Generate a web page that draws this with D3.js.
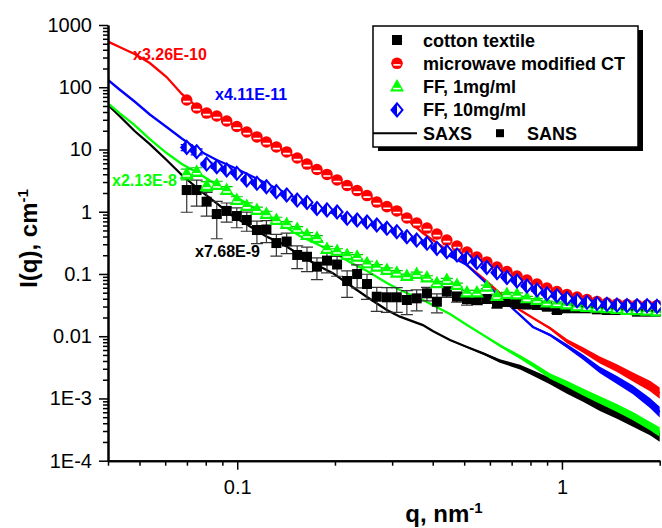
<!DOCTYPE html>
<html>
<head>
<meta charset="utf-8">
<script src="https://cdn.jsdelivr.net/npm/d3@7"></script>
<style>
  body { margin: 0; background: #fff; }
  svg { display: block; font-family: "Liberation Sans", Arial, sans-serif; }
</style>
</head>
<body>
<div id="chart"></div>
<script>
// SANS q grid shared by the four samples, nm^-1
const qSans = [0.0699, 0.0750, 0.0805, 0.0865, 0.0928, 0.0997, 0.107, 0.115, 0.123, 0.132,
  0.142, 0.153, 0.164, 0.176, 0.189, 0.203, 0.218, 0.234, 0.251, 0.269,
  0.289, 0.310, 0.333, 0.357, 0.384, 0.412, 0.442, 0.475, 0.510, 0.547,
  0.587, 0.631, 0.677, 0.727, 0.780, 0.838, 0.899, 0.965, 1.036, 1.113,
  1.194, 1.282, 1.376, 1.477, 1.586, 1.702, 1.828, 1.962];

const cottonSans = [2.23, 2.23, 1.45, 0.918, 1.03, 0.853, 0.736, 0.508, 0.518, 0.314,
  0.332, 0.202, 0.189, 0.131, 0.164, 0.142, 0.0771, 0.0998, 0.0690, 0.0431,
  0.0422, 0.0422, 0.0382, 0.0406, 0.0489, 0.0358, 0.0519, 0.0431, 0.0396, 0.0382,
  0.0396, 0.0335, 0.0355, 0.0329, 0.0323, 0.0317, 0.0298, 0.0264, 0.0281, 0.0281,
  0.0281, 0.0270, 0.0264, 0.0264, 0.0264, 0.0248, 0.0248, 0.0248];
const cottonErr = [1.25, 1.0, 0.6, 0.55, 0.35, 0.3, 0.25, 0.2, 0.2, 0.12,
  0.12, 0.08, 0.08, 0.05, 0.06, 0.05, 0.035, 0.04, 0.03, 0.018,
  0.018, 0.018, 0.016, 0.015, 0.012, 0.012, 0.01, 0.008, 0.008, 0.006,
  0.006, 0.005, 0.005, 0.004, 0.004, 0.003, 0.003, 0.003, 0.003, 0.002,
  0.002, 0.002, 0.002, 0.002, 0.002, 0.002, 0.002, 0.002];

const modifiedSans = [62.4, 46.4, 38.5, 34.5, 28.7, 23.4, 19.1, 15.9, 13.2, 10.96,
  9.12, 7.30, 5.84, 4.77, 3.97, 3.24, 2.64, 2.19, 1.82, 1.43,
  1.21, 1.03, 0.793, 0.659, 0.547, 0.438, 0.351, 0.281, 0.225, 0.187,
  0.156, 0.129, 0.109, 0.0927, 0.0800, 0.0690, 0.0595, 0.0522, 0.0468, 0.0426,
  0.0389, 0.0361, 0.0341, 0.0330, 0.0323, 0.0318, 0.0315, 0.0312];

const ff1Sans = [4.04, 4.39, 2.59, 2.69, 2.23, 1.54, 1.24, 1.07, 0.918, 0.736,
  0.635, 0.528, 0.423, 0.378, 0.252, 0.234, 0.202, 0.189, 0.148, 0.131,
  0.116, 0.105, 0.0927, 0.0998, 0.0877, 0.0708, 0.0800, 0.0665, 0.0504, 0.0504,
  0.0624, 0.0443, 0.0476, 0.0468, 0.0406, 0.0382, 0.0348, 0.0338, 0.0323, 0.0302,
  0.0294, 0.0286, 0.0281, 0.0274, 0.0264, 0.0261, 0.0257, 0.0249];
const ff1Err = [0.8, 0.7, 0.45, 0.4, 0.3, 0.2, 0.15, 0.12, 0.1, 0.08,
  0.06, 0.05, 0.04, 0.035, 0.025, 0.02, 0.018, 0.015, 0.012, 0.01,
  0.009, 0.008, 0.007, 0.007, 0.006, 0.005, 0.005, 0.005, 0.004, 0.004,
  0.004, 0.003, 0.003, 0.003, 0.003, 0.002, 0.002, 0.002, 0.002, 0.002,
  0.002, 0.002, 0.002, 0.002, 0.002, 0.002, 0.002, 0.002];

const ff10Sans = [10.8, 9.21, 5.84, 5.29, 4.68, 4.14, 3.24, 2.86, 2.52, 2.10,
  1.86, 1.54, 1.41, 1.13, 1.07, 0.990, 0.784, 0.736, 0.684, 0.612,
  0.542, 0.478, 0.397, 0.351, 0.311, 0.258, 0.228, 0.202, 0.177, 0.153,
  0.127, 0.105, 0.0877, 0.0771, 0.0641, 0.0552, 0.0480, 0.0448, 0.0404, 0.0372,
  0.0351, 0.0335, 0.0325, 0.0317, 0.0311, 0.0309, 0.0309, 0.0302];
const ff10Err = [1.2, 1.0, 0.4, 0.3, 0.2, 0.15, 0.1, 0.08, 0.06, 0.05,
  0.04, 0.03, 0.025, 0.02, 0.018, 0.015, 0.012, 0.01, 0.009, 0.008,
  0.007, 0.006, 0.005, 0.005, 0.004, 0.004, 0.003, 0.003, 0.003, 0.002,
  0.002, 0.002, 0.002, 0.002, 0.002, 0.002, 0.002, 0.002, 0.002, 0.002,
  0.002, 0.002, 0.002, 0.002, 0.002, 0.002, 0.002, 0.002];

// SAXS curves (scaled), nm^-1
const qSaxs = [0.04, 0.0434, 0.0483, 0.0538, 0.0606, 0.0675, 0.0766, 0.0865, 0.0969, 0.109,
  0.123, 0.138, 0.156, 0.176, 0.197, 0.222, 0.251, 0.289, 0.317, 0.373,
  0.400, 0.452, 0.510, 0.571, 0.644, 0.743, 0.814, 0.918, 1.036, 1.161,
  1.309, 1.477, 1.655, 1.867, 2.00];

const cottonSaxs = [51.9, 34.5, 19.8, 12.2, 6.78, 3.89, 2.23, 1.36, 0.853, 0.590,
  0.400, 0.303, 0.202, 0.139, 0.103, 0.0665, 0.0427, 0.0264, 0.0206, 0.0151,
  0.0121, 0.00869, 0.00670, 0.00531, 0.00400, 0.00320, 0.00256, 0.00191, 0.00137, 0.00102,
  0.000737, 0.000562, 0.000423, 0.000311, 0.000249];
const modifiedSaxs = [540, 443, 342, 245, 146, 77.9, 44.7, 34.5, 25.2, 18.4,
  13.2, 9.81, 6.90, 4.77, 3.48, 2.50, 1.82, 1.21, 0.953, 0.455,
  0.351, 0.225, 0.139, 0.0861, 0.0494, 0.0264, 0.0196, 0.0135, 0.00837, 0.00600,
  0.00415, 0.00308, 0.00221, 0.00158, 0.00122];
const ff1Saxs = [55.2, 38.5, 24.7, 14.7, 8.77, 5.84, 4.04, 2.69, 1.86, 1.28,
  0.853, 0.612, 0.407, 0.303, 0.225, 0.156, 0.112, 0.0716, 0.0552, 0.0382,
  0.0317, 0.0227, 0.0151, 0.0105, 0.00709, 0.00463, 0.00345, 0.00230, 0.00171, 0.00127,
  0.000944, 0.000702, 0.000522, 0.000361, 0.000289];
const ff10Saxs = [131, 92.0, 59.0, 36.5, 23.0, 15.0, 9.45, 6.78, 5.23, 3.89,
  2.84, 2.11, 1.54, 1.15, 0.953, 0.764, 0.684, 0.542, 0.455, 0.314,
  0.271, 0.195, 0.139, 0.0800, 0.0427, 0.0219, 0.0141, 0.0105, 0.00696, 0.00463,
  0.00287, 0.00198, 0.00137, 0.000845, 0.000605];

// scatter of the noisy SAXS tail, in decades either side of the curve
const cottonNoise = [0, 0, 0, 0, 0, 0, 0, 0, 0, 0, 0, 0, 0, 0, 0, 0, 0, 0, 0, 0, 0,
  0.007, 0.01, 0.018, 0.028, 0.038, 0.045, 0.052, 0.06, 0.063, 0.07, 0.077, 0.08, 0.084, 0.09];
const modifiedNoise = [0, 0, 0, 0, 0, 0, 0, 0, 0, 0, 0, 0, 0, 0, 0, 0, 0, 0, 0, 0, 0,
  0, 0, 0, 0, 0.007, 0.011, 0.022, 0.034, 0.045, 0.056, 0.063, 0.073, 0.084, 0.09];
const ff1Noise = [0, 0, 0, 0, 0, 0, 0, 0, 0, 0, 0, 0, 0, 0, 0, 0, 0, 0, 0, 0, 0,
  0, 0.007, 0.014, 0.021, 0.031, 0.038, 0.045, 0.05, 0.056, 0.06, 0.063, 0.066, 0.07, 0.077];
const ff10Noise = [0, 0, 0, 0, 0, 0, 0, 0, 0, 0, 0, 0, 0, 0, 0, 0, 0, 0, 0, 0, 0,
  0, 0, 0, 0, 0.007, 0.011, 0.021, 0.031, 0.042, 0.052, 0.063, 0.07, 0.08, 0.087];

const yTicks = [1000, 100, 10, 1, 0.1, 0.01, 1e-3, 1e-4];
const yTickLabels = ["1000", "100", "10", "1", "0.1", "0.01", "1E-3", "1E-4"];
const xTicks = [0.1, 1];
const xTickLabels = ["0.1", "1"];

const sampleNames = ["cotton textile", "microwave modified CT", "FF, 1mg/ml", "FF, 10mg/ml"];
const scaleNotes = ["x7.68E-9", "x3.26E-10", "x2.13E-8", "x4.11E-11"];

const width = 662;
const height = 528;

const x = d3.scaleLog().domain([0.04, 2]).range([108, 659.7]);
const y = d3.scaleLog().domain([1e-4, 1000]).range([460.7, 25]);

const svg = d3.select("#chart").append("svg")
  .attr("width", width)
  .attr("height", height);

svg.append("rect").attr("width", width).attr("height", height).attr("fill", "#fff");

svg.append("clipPath").attr("id", "plot-clip")
  .append("rect")
  .attr("x", x.range()[0]).attr("y", y.range()[1])
  .attr("width", x.range()[1] - x.range()[0] + 1)
  .attr("height", y.range()[0] - y.range()[1]);

const plot = svg.append("g").attr("clip-path", "url(#plot-clip)");

const samples = [
  { color: "#000", sans: cottonSans, err: cottonErr, saxs: cottonSaxs, noise: cottonNoise, shape: "square", errColor: "#333" },
  { color: "#f00", sans: modifiedSans, err: null, saxs: modifiedSaxs, noise: modifiedNoise, shape: "circle" },
  { color: "#0f0", sans: ff1Sans, err: ff1Err, saxs: ff1Saxs, noise: ff1Noise, shape: "triangle", errColor: "#0c0" },
  { color: "#00f", sans: ff10Sans, err: ff10Err, saxs: ff10Saxs, noise: ff10Noise, shape: "diamond", errColor: "#00f" },
];

// SAXS curves with their noisy tails
const band = d3.area()
  .x((d) => x(d.q))
  .y0((d) => y(d.v * Math.pow(10, -d.s)))
  .y1((d) => y(d.v * Math.pow(10, d.s)));
const curve = d3.line().x((d) => x(d.q)).y((d) => y(d.v));

samples.forEach((s) => {
  const pts = qSaxs.map((q, i) => ({ q, v: s.saxs[i], s: s.noise[i] }));
  plot.append("path").datum(pts).attr("d", band).attr("fill", s.color);
  plot.append("path").datum(pts).attr("d", curve)
    .attr("fill", "none").attr("stroke", s.color).attr("stroke-width", 2.3);
});

// marker shapes, half-open like the original symbols
function drawMarker(g, shape, color) {
  if (shape === "square") {
    g.append("rect").attr("x", -5).attr("y", -5).attr("width", 10).attr("height", 10).attr("fill", color);
  } else if (shape === "circle") {
    g.append("circle").attr("r", 5.8).attr("fill", color);
    g.append("line").attr("x1", -3.6).attr("x2", 3.6).attr("y1", 1.6).attr("y2", 1.6)
      .attr("stroke", "#fff").attr("stroke-width", 1.6);
  } else if (shape === "triangle") {
    g.append("path").attr("d", "M0,-7.5L7,5L-7,5Z").attr("fill", color);
    g.append("line").attr("x1", -3.8).attr("x2", 3.8).attr("y1", 2).attr("y2", 2)
      .attr("stroke", "#fff").attr("stroke-width", 1.6);
  } else if (shape === "diamond") {
    g.append("path").attr("d", "M0,-6.5L5.5,0L0,6.5L-5.5,0Z").attr("fill", "#fff").attr("stroke", color).attr("stroke-width", 2);
    g.append("path").attr("d", "M0,-6.5L-5.5,0L0,6.5Z").attr("fill", color);
  }
}

// SANS points with error bars
samples.forEach((s) => {
  const pts = qSans.map((q, i) => ({ q, v: s.sans[i], e: s.err ? s.err[i] : 0 }));
  const layer = plot.append("g");
  if (s.err) {
    const bars = layer.selectAll(".err").data(pts).join("g")
      .attr("stroke", s.errColor).attr("stroke-width", 1.2);
    const top = (d) => y(d.v + d.e);
    const bottom = (d) => y(Math.max(d.v - d.e, 1e-4));
    bars.append("line")
      .attr("x1", (d) => x(d.q)).attr("x2", (d) => x(d.q))
      .attr("y1", top).attr("y2", bottom);
    bars.append("line")
      .attr("x1", (d) => x(d.q) - 6).attr("x2", (d) => x(d.q) + 6)
      .attr("y1", top).attr("y2", top);
    bars.append("line")
      .attr("x1", (d) => x(d.q) - 6).attr("x2", (d) => x(d.q) + 6)
      .attr("y1", bottom).attr("y2", bottom);
  }
  layer.selectAll(".pt").data(pts).join("g")
    .attr("transform", (d) => `translate(${x(d.q)},${y(d.v)})`)
    .each(function () { drawMarker(d3.select(this), s.shape, s.color); });
});

// axes
function styleAxis(g) {
  g.selectAll("path").attr("stroke", "#000").attr("stroke-width", 2);
  g.selectAll("line").attr("stroke", "#000").attr("stroke-width", 1.5);
  g.selectAll("text").attr("fill", "#000");
  g.attr("font-size", 20).attr("font-family", "'Liberation Sans', Arial, sans-serif");
}
const isMajor = (ticks) => (v) => ticks.some((t) => Math.abs(t - v) / t < 1e-6);

const minorY = y.ticks().filter((v) => !isMajor(yTicks)(v));
const minorX = x.ticks().filter((v) => !isMajor(xTicks)(v));

svg.append("g").attr("transform", `translate(${x.range()[0]},0)`)
  .call(d3.axisLeft(y).tickValues(minorY).tickSize(5).tickSizeOuter(0).tickFormat(""))
  .call(styleAxis);
svg.append("g").attr("transform", `translate(${x.range()[0]},0)`)
  .call(d3.axisLeft(y).tickValues(yTicks).tickSize(9).tickSizeOuter(0).tickPadding(7)
    .tickFormat((d, i) => yTickLabels[i]))
  .call(styleAxis);

svg.append("g").attr("transform", `translate(0,${y.range()[0]})`)
  .call(d3.axisBottom(x).tickValues(minorX).tickSize(5).tickSizeOuter(0).tickFormat(""))
  .call(styleAxis);
svg.append("g").attr("transform", `translate(0,${y.range()[0]})`)
  .call(d3.axisBottom(x).tickValues(xTicks).tickSize(9).tickSizeOuter(0).tickPadding(10)
    .tickFormat((d, i) => xTickLabels[i]))
  .call(styleAxis);

// axis titles
const yTitle = svg.append("text")
  .attr("transform", "translate(36.5,238.5) rotate(-90)")
  .attr("text-anchor", "middle")
  .attr("font-size", 24).attr("font-weight", "bold");
yTitle.append("tspan").text("I(q), cm");
yTitle.append("tspan").attr("dy", -9).attr("font-size", 15).text("-1");

const xTitle = svg.append("text")
  .attr("x", 444).attr("y", 522)
  .attr("text-anchor", "middle")
  .attr("font-size", 24).attr("font-weight", "bold");
xTitle.append("tspan").text("q, nm");
xTitle.append("tspan").attr("dy", -9).attr("font-size", 15).text("-1");

// scaling notes next to the curves
const notePos = [[195, 257], [133, 59.5], [112, 186], [215, 100]];
svg.selectAll(".note").data(scaleNotes).join("text")
  .attr("x", (d, i) => notePos[i][0]).attr("y", (d, i) => notePos[i][1])
  .attr("fill", (d, i) => samples[i].color)
  .attr("font-size", 16).attr("font-weight", "bold")
  .text((d) => d);

// legend
const legend = svg.append("g").attr("transform", "translate(373,26)");
legend.append("rect").attr("x", 5).attr("y", 4).attr("width", 265).attr("height", 121).attr("fill", "#000");
legend.append("rect").attr("width", 265).attr("height", 121)
  .attr("fill", "#fff").attr("stroke", "#000").attr("stroke-width", 1.5);

const rowY = (i) => 14 + i * 23.3;
const rows = legend.selectAll(".row").data(sampleNames).join("g")
  .attr("transform", (d, i) => `translate(0,${rowY(i)})`);
rows.each(function (d, i) {
  const m = d3.select(this).append("g").attr("transform", "translate(24,0)");
  drawMarker(m, samples[i].shape, samples[i].color);
});
rows.append("text")
  .attr("x", 50).attr("y", 6.5)
  .attr("font-size", 18).attr("font-weight", "bold")
  .text((d) => d);

const last = legend.append("g").attr("transform", `translate(0,${rowY(4)})`);
last.append("line").attr("x1", 0).attr("x2", 44).attr("y1", 0).attr("y2", 0)
  .attr("stroke", "#000").attr("stroke-width", 2);
last.append("text").attr("x", 50).attr("y", 6.5)
  .attr("font-size", 18).attr("font-weight", "bold").text("SAXS");
last.append("rect").attr("x", 123).attr("y", -4).attr("width", 8).attr("height", 8).attr("fill", "#000");
last.append("text").attr("x", 154).attr("y", 6.5)
  .attr("font-size", 18).attr("font-weight", "bold").text("SANS");
</script>
</body>
</html>
